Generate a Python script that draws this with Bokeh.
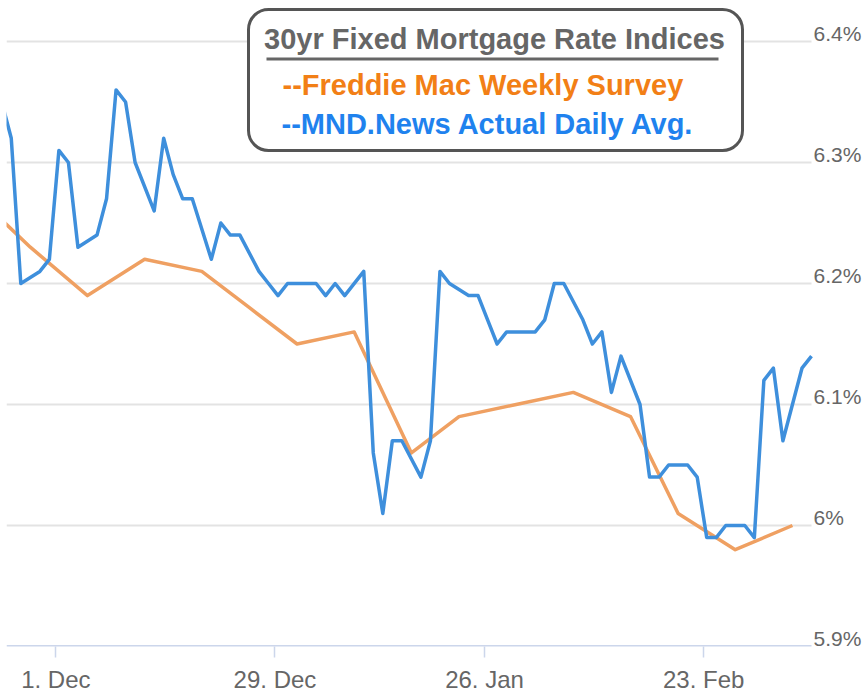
from bokeh.plotting import figure
from bokeh.models import (ColumnDataSource, FixedTicker, Range1d, Label, BoxAnnotation)
from bokeh.core.properties import value
from bokeh.embed import file_html
from bokeh.resources import INLINE

# ---------------- data ----------------
mnd_dates = [
    "2025-11-24", "2025-11-25", "2025-11-26", "2025-11-28",
    "2025-12-01", "2025-12-02", "2025-12-03", "2025-12-04", "2025-12-05",
    "2025-12-08", "2025-12-09", "2025-12-10", "2025-12-11", "2025-12-12",
    "2025-12-15", "2025-12-16", "2025-12-17", "2025-12-18", "2025-12-19",
    "2025-12-22", "2025-12-23", "2025-12-24", "2025-12-26",
    "2025-12-29", "2025-12-30", "2025-12-31", "2026-01-02",
    "2026-01-05", "2026-01-06", "2026-01-07", "2026-01-08", "2026-01-09",
    "2026-01-12", "2026-01-13", "2026-01-14", "2026-01-15", "2026-01-16",
    "2026-01-20", "2026-01-21", "2026-01-22", "2026-01-23",
    "2026-01-26", "2026-01-27", "2026-01-28", "2026-01-29", "2026-01-30",
    "2026-02-02", "2026-02-03", "2026-02-04", "2026-02-05", "2026-02-06",
    "2026-02-09", "2026-02-10", "2026-02-11", "2026-02-12", "2026-02-13",
    "2026-02-17", "2026-02-18", "2026-02-19", "2026-02-20",
    "2026-02-23", "2026-02-24", "2026-02-25", "2026-02-26", "2026-02-27",
    "2026-03-02", "2026-03-03", "2026-03-04", "2026-03-05", "2026-03-06",
    "2026-03-09",
]
mnd_rates = [
    6.35, 6.32, 6.20, 6.21,
    6.22, 6.31, 6.30, 6.23, 6.24,
    6.27, 6.36, 6.35, 6.30, 6.26,
    6.32, 6.29, 6.27, 6.27, 6.22,
    6.25, 6.24, 6.24, 6.21,
    6.20, 6.19, 6.20, 6.20,
    6.20, 6.19, 6.20, 6.19, 6.21,
    6.06, 6.01, 6.07, 6.07, 6.04,
    6.07, 6.21, 6.20, 6.19,
    6.19, 6.17, 6.15, 6.16, 6.16,
    6.16, 6.17, 6.20, 6.20, 6.17,
    6.15, 6.16, 6.11, 6.14, 6.10,
    6.04, 6.04, 6.05, 6.05,
    6.04, 5.99, 5.99, 6.00, 6.00,
    5.99, 6.12, 6.13, 6.07, 6.13,
    6.14,
]

fm_dates = [
    "2025-11-20", "2025-11-26", "2025-12-04", "2025-12-11", "2025-12-18",
    "2025-12-24", "2025-12-31", "2026-01-08", "2026-01-15", "2026-01-22",
    "2026-01-29", "2026-02-05", "2026-02-12", "2026-02-19", "2026-02-26",
    "2026-03-05",
]
fm_rates = [
    6.26, 6.23, 6.19, 6.22, 6.21,
    6.18, 6.15, 6.16, 6.06, 6.09,
    6.10, 6.11, 6.09, 6.01, 5.98,
    6.00,
]

tick_dates = ["2025-12-01", "2025-12-29", "2026-01-26", "2026-02-23"]
tick_labels = ["1. Dec", "29. Dec", "26. Jan", "23. Feb"]

y_ticks = [5.9, 6.0, 6.1, 6.2, 6.3, 6.4]
y_tick_labels = ["5.9%", "6%", "6.1%", "6.2%", "6.3%", "6.4%"]

title_text = "30yr Fixed Mortgage Rate Indices"
fm_legend = "--Freddie Mac Weekly Survey"
mnd_legend = "--MND.News Actual Daily Avg."

# ---------------- ordinal (stock-chart style) x axis ----------------
slots = sorted([(d, 0) for d in mnd_dates] + [(d, 1) for d in fm_dates])
slot_index = {s: i for i, s in enumerate(slots)}
mnd_x = [slot_index[(d, 0)] for d in mnd_dates]
fm_x = [slot_index[(d, 1)] for d in fm_dates]

TICK_SHIFT = 0.68
tick_pos = [slot_index[(d, 0)] + TICK_SHIFT for d in tick_dates]

x_start = slot_index[("2025-11-25", 0)] - 0.5
x_end = mnd_x[-1]

# ---------------- layout ----------------
W, H = 867, 698
FRAME_L, FRAME_B = 6, 646
PLOT_R = 811                      # where the series area ends (labels beyond)
slot_px = (PLOT_R - FRAME_L) / (x_end - x_start)
x_range_end = x_end + (W - PLOT_R) / slot_px
y_top = 6.4 + 41 / 1210.0

p = figure(width=W, height=H, output_backend="svg", toolbar_location=None,
           x_range=Range1d(x_start, x_range_end), y_range=Range1d(5.9, y_top),
           y_axis_location=None)
p.min_border = 0
p.min_border_left = FRAME_L
p.min_border_right = 0
p.min_border_top = 0
p.min_border_bottom = H - FRAME_B
p.outline_line_color = None
p.background_fill_color = "white"
p.border_fill_color = "white"
p.grid.visible = False

# horizontal grid lines (stop where the series end)
n = len(y_ticks)
p.segment(x0=[x_start] * (n - 1), x1=[x_end] * (n - 1), y0=y_ticks[1:], y1=y_ticks[1:],
          line_color="#e3e3e3", line_width=2)
# axis line at the bottom
p.segment(x0=[x_start], x1=[x_end], y0=[y_ticks[0]], y1=[y_ticks[0]],
          line_color="#ccd6eb", line_width=3)

# x axis (ticks + labels only)
xa = p.xaxis[0]
xa.ticker = FixedTicker(ticks=tick_pos)
xa.major_label_overrides = {t: l for t, l in zip(tick_pos, tick_labels)}
xa.axis_line_color = None
xa.major_tick_line_color = "#ccd6eb"
xa.major_tick_line_width = 1.5
xa.major_tick_out = 11
xa.major_tick_in = 0
xa.minor_tick_line_color = None
xa.major_label_standoff = 8
xa.major_label_text_font = "Liberation Sans"
xa.major_label_text_font_size = "24px"
xa.major_label_text_color = "#666666"

# lines
p.line(fm_x, fm_rates, line_color="#efa062", line_width=3.5, line_join="round")
p.line(mnd_x, mnd_rates, line_color="#3e8fdc", line_width=3.5, line_join="round")

# right-hand y labels
p.text(x=[x_end] * n, y=y_ticks, text=y_tick_labels, x_offset=2, y_offset=-8,
       text_baseline="middle", text_align="left",
       text_font=value("Liberation Sans"), text_font_size="21px",
       text_color="#666666")

# legend box (canvas px -> frame screen coords)
def sx(cx):
    return cx - FRAME_L

def sy(cy):
    return FRAME_B - cy

box = BoxAnnotation(left=sx(248), right=sx(742), top=sy(9), bottom=sy(150),
                    left_units="screen", right_units="screen",
                    top_units="screen", bottom_units="screen",
                    fill_color="white", fill_alpha=1.0,
                    line_color="#555555", line_alpha=1.0, line_width=3,
                    border_radius=20)
p.add_layout(box)
underline = BoxAnnotation(left=sx(266), right=sx(718), top=sy(57), bottom=sy(60),
                          left_units="screen", right_units="screen",
                          top_units="screen", bottom_units="screen",
                          fill_color="#666666", fill_alpha=1.0, line_color=None)
p.add_layout(underline)

p.add_layout(Label(x=sx(494), y=sy(38), x_units="screen", y_units="screen",
                   text=title_text, text_align="center", text_baseline="middle",
                   text_font="Liberation Sans", text_font_style="bold",
                   text_font_size="29px", text_color="#666666"))
p.add_layout(Label(x=sx(282), y=sy(84), x_units="screen", y_units="screen",
                   text=fm_legend, text_align="left", text_baseline="middle",
                   text_font="Liberation Sans", text_font_style="bold",
                   text_font_size="29px", text_color="#f27f16"))
p.add_layout(Label(x=sx(281), y=sy(123), x_units="screen", y_units="screen",
                   text=mnd_legend, text_align="left", text_baseline="middle",
                   text_font="Liberation Sans", text_font_style="bold",
                   text_font_size="29px", text_color="#1f82ee"))

open("out.html", "w").write(file_html(p, INLINE))
